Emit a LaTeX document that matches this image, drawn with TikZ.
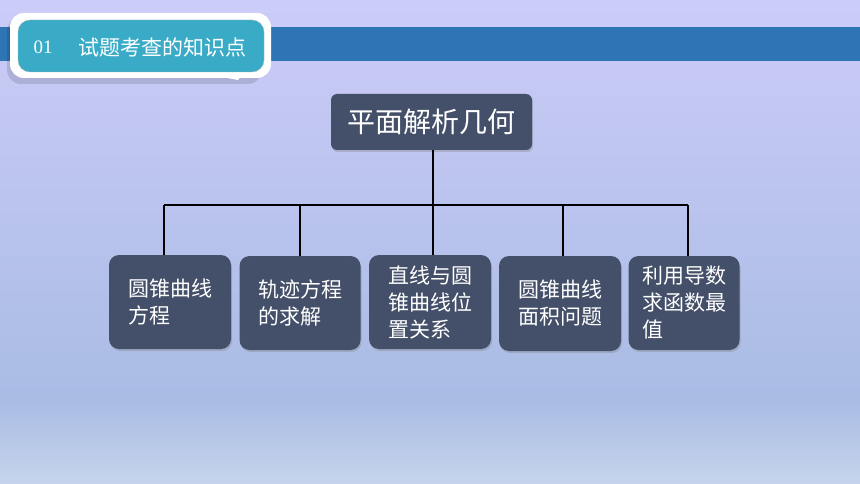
\documentclass[tikz,border=0pt]{standalone}
\usepackage{fontspec}
\newfontfamily\cjk{Noto Sans CJK SC}
\newfontfamily\numfont{Liberation Serif}
\usetikzlibrary{shadows}
\definecolor{bgtop}{HTML}{CCCCF8}
\definecolor{bgmid}{HTML}{A9BCE4}
\definecolor{bgbot}{HTML}{C6D5EC}
\definecolor{band}{HTML}{2F74B5}
\definecolor{tabfill}{HTML}{3AABC7}
\definecolor{boxfill}{HTML}{445069}
\tikzset{
  head/.style={fill=boxfill, rounded corners=6pt, text=white, inner sep=0pt,
    font=\cjk\fontsize{28}{32}\selectfont, minimum width=201pt, minimum height=56pt,
    drop shadow={opacity=0.35, shadow xshift=1pt, shadow yshift=-2pt}},
  leaf/.style={fill=boxfill, rounded corners=10pt, text=white, inner sep=0pt, align=left,
    font=\cjk\fontsize{21}{27}\selectfont, minimum height=94pt,
    drop shadow={opacity=0.35, shadow xshift=1pt, shadow yshift=-2pt}},
  link/.style={line width=2pt, black}
}
\begin{document}
\begin{tikzpicture}[x=1pt, y=-1pt]
\useasboundingbox (0,0) rectangle (860,484);
% background
\shade[top color=bgtop, bottom color=bgmid] (0,0) rectangle (860,400);
\shade[top color=bgmid, bottom color=bgbot] (0,400) rectangle (860,484);
\fill[band] (0,27) rectangle (860,61);
% title tab
\fill[black, opacity=0.12, rounded corners=14pt] (7,17) rectangle (262,84);
\fill[white, rounded corners=14pt] (10,13) rectangle (271,78);
\fill[white] (205,74) -- (238,80) -- (244,72) -- cycle;
\draw[tabfill!60!brown!70, fill=tabfill, rounded corners=12pt] (18,20) rectangle (264,72);
\node[text=white, font=\numfont\fontsize{19}{22}\selectfont] (num) at (43,47) {01};
\node[text=white, font=\cjk\fontsize{21}{24}\selectfont] (title) at (162,47) {试题考查的知识点};

% tree
\node[head] (root) at (431.5,122) {平面解析几何};
\node[leaf, minimum width=122pt] (b1) at (170,302) {圆锥曲线\\方程};
\node[leaf, minimum width=121pt] (b2) at (300,303) {轨迹方程\\的求解};
\node[leaf, minimum width=122pt] (b3) at (430,302) {直线与圆\\锥曲线位\\置关系};
\node[leaf, minimum width=122pt, minimum height=95pt] (b4) at (560,303.5) {圆锥曲线\\面积问题};
\node[leaf, minimum width=111pt] (b5) at (684,303) {利用导数\\求函数最\\值};

\coordinate (j1) at (164,205);
\coordinate (j2) at (300,205);
\coordinate (j3) at (433,205);
\coordinate (j4) at (563,205);
\coordinate (j5) at (688,205);
\draw[link] (j1) -- (j5);
\draw[link] (root.south -| j3) -- (j3);
\foreach \i in {1,...,5}
  \draw[link] (j\i) -- (j\i |- b\i.north);
\end{tikzpicture}
\end{document}
